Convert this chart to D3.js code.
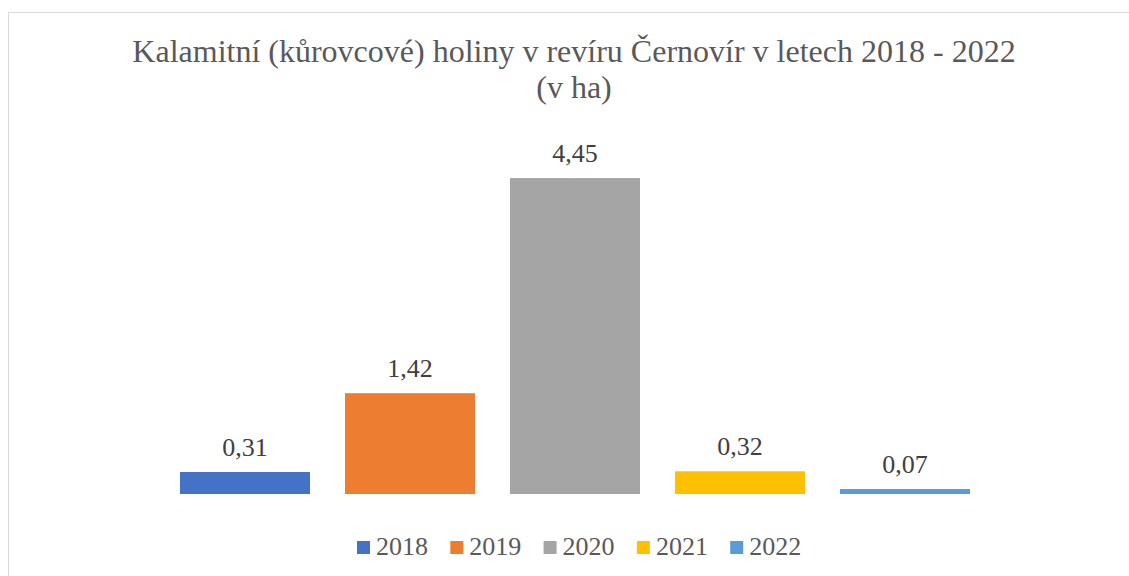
<!DOCTYPE html>
<html>
<head>
<meta charset="utf-8">
<script src="https://cdnjs.cloudflare.com/ajax/libs/d3/7.8.5/d3.min.js"></script>
<style>
    body { margin: 0; background: #fff; }
</style>
</head>
<body>
<svg id="chart" width="1129" height="576" font-family="'Liberation Serif', 'Times New Roman', Times, 'DejaVu Serif', serif"></svg>
<script>
var years = ["2018", "2019", "2020", "2021", "2022"];
var values = [0.31, 1.42, 4.45, 0.32, 0.07];
var labels = ["0,31", "1,42", "4,45", "0,32", "0,07"];
var colors = ["#4472C4", "#ED7D31", "#A5A5A5", "#FFC000", "#5B9BD5"];

var svg = d3.select("#chart");

// chart area border (only top and left visible in frame)
svg.append("rect")
    .attr("x", 8.5).attr("y", 12.5)
    .attr("width", 1140).attr("height", 600)
    .attr("fill", "none")
    .attr("stroke", "#d9d9d9");

var title = svg.append("text")
    .attr("text-anchor", "middle")
    .attr("fill", "#595959")
    .attr("font-size", 32);
title.append("tspan").attr("x", 574).attr("y", 62)
    .text("Kalamitní (kůrovcové) holiny v revíru Černovír v letech 2018 - 2022");
title.append("tspan").attr("x", 574).attr("y", 98).text("(v ha)");

var pad = 35 / 165;
var x = d3.scaleBand().domain(years).range([162.5, 987.5])
    .paddingInner(pad).paddingOuter(pad / 2);
var y = d3.scaleLinear().domain([0, 5]).range([494, 139]);

var g = svg.append("g");

g.selectAll(".bar")
    .data(years)
    .enter().append("rect")
    .attr("class", "bar")
    .attr("x", function (d) { return x(d); })
    .attr("y", function (d, i) { return y(values[i]); })
    .attr("width", x.bandwidth())
    .attr("height", function (d, i) { return y(0) - y(values[i]); })
    .attr("fill", function (d, i) { return colors[i]; });

g.selectAll(".lbl")
    .data(years)
    .enter().append("text")
    .attr("class", "lbl")
    .attr("x", function (d) { return x(d) + x.bandwidth() / 2; })
    .attr("y", function (d, i) { return y(values[i]) - 16; })
    .attr("text-anchor", "middle")
    .attr("fill", "#404040")
    .attr("font-size", 26)
    .text(function (d, i) { return labels[i]; });

// legend
var legend = svg.append("g");
var item = legend.selectAll(".leg")
    .data(years)
    .enter().append("g")
    .attr("class", "leg")
    .attr("transform", function (d, i) { return "translate(" + (357 + i * 93.3) + ",0)"; });
item.append("rect")
    .attr("x", 0).attr("y", 541)
    .attr("width", 13).attr("height", 13)
    .attr("fill", function (d, i) { return colors[i]; });
item.append("text")
    .attr("x", 19).attr("y", 555)
    .attr("fill", "#595959")
    .attr("font-size", 26)
    .text(function (d) { return d; });
</script>
</body>
</html>
